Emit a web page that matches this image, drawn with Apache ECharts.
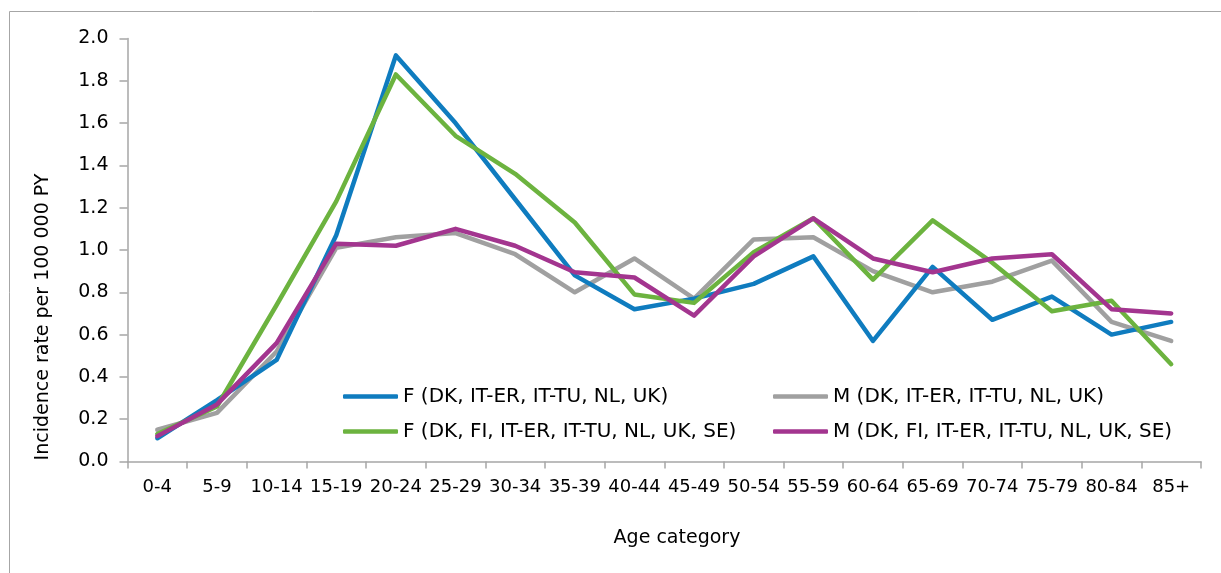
<!DOCTYPE html>
<html>
<head>
<meta charset="utf-8">
<script src="https://cdn.jsdelivr.net/npm/echarts@6/dist/echarts.min.js"></script>
<style>
html,body{margin:0;padding:0;background:#fff;}
#main{width:1221px;height:573px;}
</style>
</head>
<body>
<div id="main"></div>
<script>
var categories = ['0-4','5-9','10-14','15-19','20-24','25-29','30-34','35-39','40-44','45-49','50-54','55-59','60-64','65-69','70-74','75-79','80-84','85+'];
var seriesNames = ['F (DK, IT-ER, IT-TU, NL, UK)','M (DK, IT-ER, IT-TU, NL, UK)','F (DK, FI, IT-ER, IT-TU, NL, UK, SE)','M (DK, FI, IT-ER, IT-TU, NL, UK, SE)'];
var fSet1 = [0.11,0.29,0.48,1.07,1.92,1.60,1.24,0.88,0.72,0.77,0.84,0.97,0.57,0.92,0.67,0.78,0.60,0.66];
var mSet1 = [0.15,0.23,0.52,1.01,1.06,1.08,0.98,0.80,0.96,0.77,1.05,1.06,0.90,0.80,0.85,0.95,0.66,0.57];
var fSet2 = [0.13,0.26,0.74,1.23,1.83,1.54,1.36,1.13,0.79,0.75,0.99,1.15,0.86,1.14,0.94,0.71,0.76,0.46];
var mSet2 = [0.12,0.27,0.56,1.03,1.02,1.10,1.02,0.895,0.87,0.69,0.97,1.15,0.96,0.895,0.96,0.98,0.72,0.70];
var colors = ['#0f7cbf','#a0a0a0','#6cb33f','#a3358f'];

var chart = echarts.init(document.getElementById('main'));
var font = 'DejaVu Sans';
var dataSets = [fSet1, mSet1, fSet2, mSet2];
var series = dataSets.map(function(d, i){
  return {
    name: seriesNames[i], type: 'line', data: d, symbol: 'none',
    lineStyle: {width: 4.5, color: colors[i], cap: 'round', join: 'round'},
    itemStyle: {color: colors[i]},
    z: [2,1,3,4][i]
  };
});
var legendPos = [[343,386],[773,386],[343,421],[773,421]];
var legends = seriesNames.map(function(n, i){
  return {
    data: [n], left: legendPos[i][0], top: legendPos[i][1], padding: 0,
    icon: 'roundRect', itemWidth: 55, itemHeight: 4.5,
    textStyle: {fontFamily: font, fontSize: 20, color: '#000', lineHeight: 21},
    selectedMode: false
  };
});
chart.setOption({
  animation: false,
  backgroundColor: '#fff',
  color: colors,
  grid: {left: 127.5, right: 20, top: 38.5, bottom: 111.5, containLabel: false},
  legend: legends,
  xAxis: {
    type: 'category', data: categories, boundaryGap: true,
    axisLine: {lineStyle: {color: '#a6a6a6', width: 1.5}},
    axisTick: {show: true, length: 7, lineStyle: {color: '#a6a6a6', width: 1.5}},
    axisLabel: {fontFamily: font, fontSize: 18, color: '#000', margin: 17, interval: 0}
  },
  yAxis: {
    type: 'value', min: 0, max: 2, interval: 0.2,
    splitLine: {show: false},
    axisLine: {show: true, lineStyle: {color: '#a6a6a6', width: 1.5}},
    axisTick: {show: true, length: 8, lineStyle: {color: '#a6a6a6', width: 1.5}},
    axisLabel: {fontFamily: font, fontSize: 19, color: '#000', margin: 19,
      formatter: function(v){ return v.toFixed(1); }}
  },
  graphic: [
    {type: 'rect', shape: {x: 9.5, y: 11.5, width: 1400, height: 700}, style: {fill: 'none', stroke: '#a6a6a6', lineWidth: 1}, silent: true, z: -1},
    {type: 'text', x: 677, y: 538, style: {text: 'Age category', font: '19px "DejaVu Sans"', fill: '#000', textAlign: 'center', textVerticalAlign: 'middle'}},
    {type: 'text', x: 43, y: 317, rotation: Math.PI/2, style: {text: 'Incidence rate per 100 000 PY', font: '19px "DejaVu Sans"', fill: '#000', textAlign: 'center', textVerticalAlign: 'middle'}}
  ],
  series: series
});
</script>
</body>
</html>
